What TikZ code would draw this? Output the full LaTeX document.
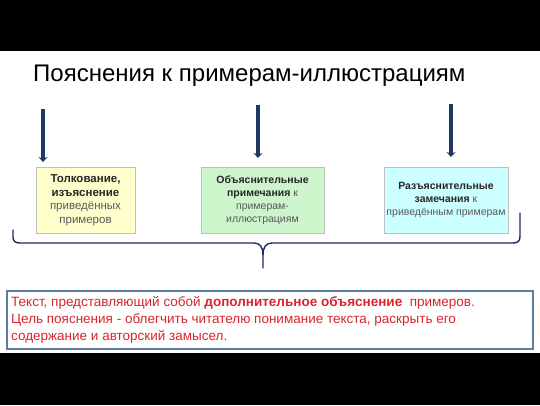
\documentclass[tikz,border=0pt]{standalone}
\usepackage{fontspec}
\setmainfont{Liberation Sans}
\usetikzlibrary{arrows.meta}
\definecolor{navy}{HTML}{1F3864}
\definecolor{bracecol}{HTML}{1F2A5C}
\definecolor{yel}{HTML}{FFFFCC}
\definecolor{grn}{HTML}{CCF5CC}
\definecolor{cyn}{HTML}{CCFFFF}
\definecolor{boxedge}{HTML}{BFBFBF}
\definecolor{bedge}{HTML}{5B7EA4}
\definecolor{redtxt}{HTML}{D9262C}
\definecolor{dtxt}{HTML}{262626}
\definecolor{ltxt}{HTML}{595959}
\tikzset{
  catbox/.style={draw=boxedge, line width=1pt, minimum height=66pt, align=center, font=\fontsize{10.5}{13}\selectfont, inner sep=2pt},
  downarrow/.style={draw=navy, line width=3.5pt, -{Stealth[length=5pt,width=9pt]}},
  bracestyle/.style={draw=bracecol, line width=1.4pt, line cap=round, line join=round}
}
\begin{document}
\begin{tikzpicture}[x=1pt,y=-1pt]
\useasboundingbox (0,0) rectangle (540,405);
\fill[black] (0,0) rectangle (540,51);
\fill[black] (0,353) rectangle (540,405);
\node[anchor=west, font=\fontsize{24}{29}\selectfont, inner sep=0pt] (title) at (33,76) {Пояснения к примерам-иллюстрациям};
% arrows
\coordinate (a1s) at (43,109);
\coordinate (a1e) at (43,162);
\coordinate (a2s) at (258,105);
\coordinate (a2e) at (258,158);
\coordinate (a3s) at (451,104);
\coordinate (a3e) at (451,157);
\draw[downarrow] (a1s) -- (a1e);
\draw[downarrow] (a2s) -- (a2e);
\draw[downarrow] (a3s) -- (a3e);
% boxes
\node[catbox, fill=yel, minimum width=99pt, font=\fontsize{11.5}{13.5}\selectfont] (b1) at (85.5,200) {\textcolor{dtxt}{\textbf{Толкование,}}\\\textcolor{dtxt}{\textbf{изъяснение}}\\\textcolor{ltxt}{приведённых}\\\textcolor{ltxt}{примеров}};
\node[catbox, fill=grn, minimum width=123pt] (b2) at (262.5,200) {\textcolor{dtxt}{\textbf{Объяснительные}}\\\textcolor{dtxt}{\textbf{примечания}}~\textcolor{ltxt}{к}\\\textcolor{ltxt}{примерам-}\\\textcolor{ltxt}{иллюстрациям}};
\node[catbox, fill=cyn, minimum width=124pt] (b3) at (446,200) {\textcolor{dtxt}{\textbf{Разъяснительные}}\\\textcolor{dtxt}{\textbf{замечания}}~\textcolor{ltxt}{к}\\\textcolor{ltxt}{приведённым примерам}};
% brace
\coordinate (brL) at (13,230);
\coordinate (brR) at (520,213);
\coordinate (brT) at (263,268);
\draw[bracestyle] (brL) -- (13,237) .. controls (13,241) and (15,243) .. (20,243) -- (254,243) .. controls (260,243) and (263,247) .. (263,255) -- (brT);
\draw[bracestyle] (brR) -- (520,236) .. controls (520,241) and (518,243) .. (513,243) -- (272,243) .. controls (266,243) and (263,247) .. (263,255);
% bottom box
\node[draw=bedge, line width=1.5pt, fill=white, minimum width=526pt, minimum height=58pt, anchor=north west, inner sep=0pt] (note) at (6,290) {};
\node[anchor=north west, align=left, text=redtxt, font=\fontsize{13.5}{17}\selectfont, inner sep=0pt] (notetext) at (11,296) {Текст, представляющий собой \textbf{дополнительное объяснение}\ \ примеров.\\Цель пояснения - облегчить читателю понимание текста, раскрыть его\\содержание и авторский замысел.};
\end{tikzpicture}
\end{document}
